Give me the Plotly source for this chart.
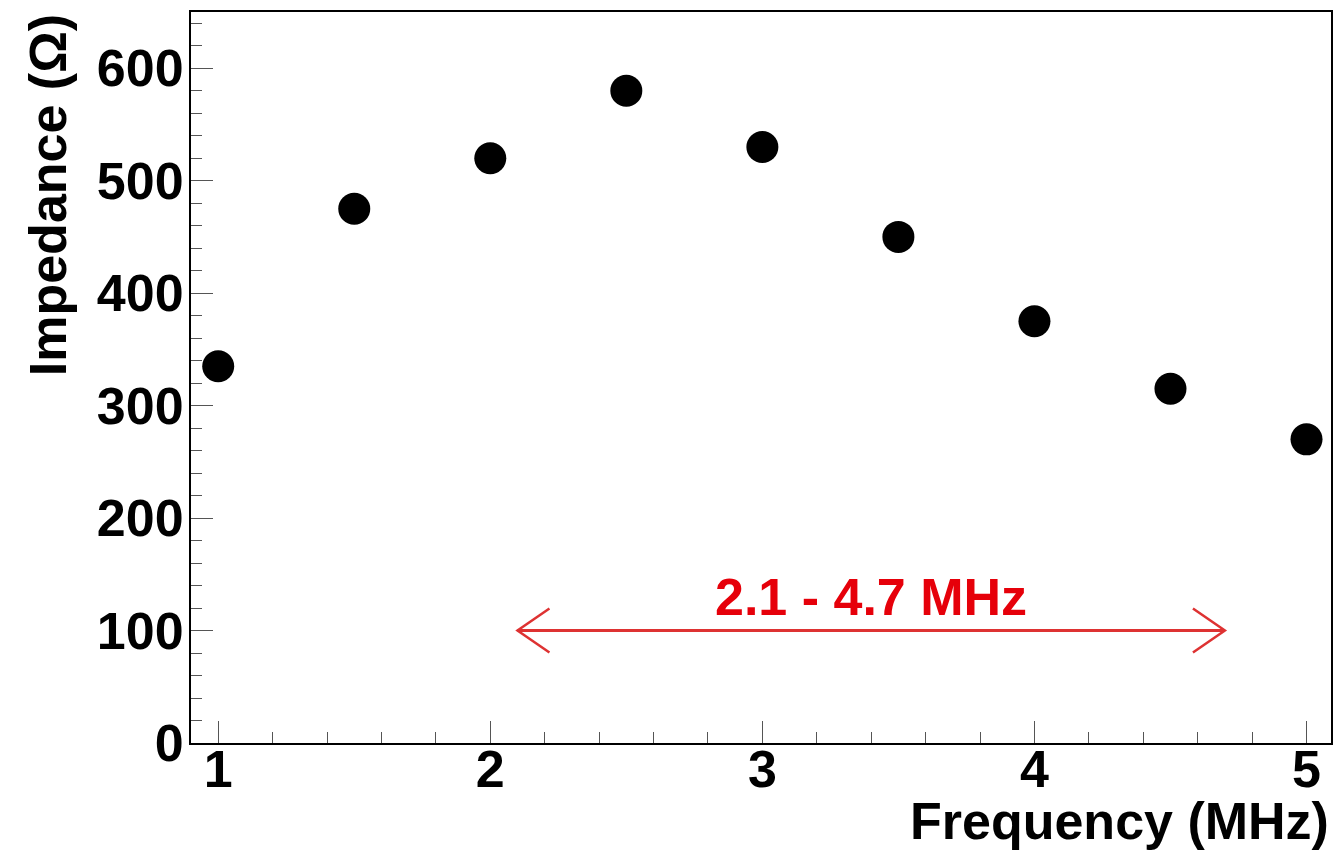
import plotly.graph_objects as go

# ---- data ----
frequency_mhz = [1.0, 1.5, 2.0, 2.5, 3.0, 3.5, 4.0, 4.5, 5.0]
impedance_ohm = [335, 475, 520, 580, 530, 450, 375, 315, 270]
band_range = [2.1, 4.7]
band_y = 100
band_label = "2.1 - 4.7 MHz"
x_title = "Frequency (MHz)"
y_title = "Impedance (Ω)"
x_ticks = [1, 2, 3, 4, 5]
y_ticks = [0, 100, 200, 300, 400, 500, 600]

# ---- layout geometry ----
W, H = 1339, 852
ML, MR, MT, MB = 191, 6, 12, 109
x_range = [0.9, 5.09]
y_range = [0, 650]
plot_w = W - ML - MR
plot_h = H - MT - MB

FONT = "Liberation Sans, Arial, Helvetica, sans-serif"
FS = 52
RED_LINE = "rgb(222,50,50)"
RED_TEXT = "rgb(230,0,10)"

# arrow head size in pixels -> data units
head_px_x, head_px_y = 32, 22
hx = head_px_x * (x_range[1] - x_range[0]) / plot_w
hy = head_px_y * (y_range[1] - y_range[0]) / plot_h

fig = go.Figure()

# arrow shaft
fig.add_trace(go.Scatter(
    x=band_range, y=[band_y, band_y], mode="lines",
    line=dict(color=RED_LINE, width=3), hoverinfo="skip", showlegend=False))
# arrow heads (open chevrons)
x0, x1 = band_range
fig.add_trace(go.Scatter(
    x=[x0 + hx, x0, x0 + hx], y=[band_y + hy, band_y, band_y - hy], mode="lines",
    line=dict(color=RED_LINE, width=2.5), hoverinfo="skip", showlegend=False))
fig.add_trace(go.Scatter(
    x=[x1 - hx, x1, x1 - hx], y=[band_y + hy, band_y, band_y - hy], mode="lines",
    line=dict(color=RED_LINE, width=2.5), hoverinfo="skip", showlegend=False))

# data points
fig.add_trace(go.Scatter(
    x=frequency_mhz, y=impedance_ohm, mode="markers",
    marker=dict(symbol="circle", size=32, color="black"),
    showlegend=False))

fig.add_annotation(
    x=sum(band_range) / 2, y=band_y, xref="x", yref="y",
    text=f"<b>{band_label}</b>", showarrow=False, yshift=34,
    font=dict(family=FONT, size=FS, color=RED_TEXT))

# axis titles (right/top aligned as in the original)
fig.add_annotation(
    x=1, y=-(790 - (H - MB)) / plot_h, xref="paper", yref="paper",
    xanchor="right", yanchor="top", text=f"<b>{x_title}</b>", showarrow=False,
    font=dict(family=FONT, size=FS, color="black"))
fig.add_annotation(
    x=(48 - ML) / plot_w, y=1 - (12 - MT) / plot_h, xref="paper", yref="paper",
    xanchor="center", yanchor="top", textangle=-90, text=f"<b>{y_title}</b>",
    showarrow=False, font=dict(family=FONT, size=FS, color="black"))

axis_common = dict(
    showgrid=False, zeroline=False, showline=True, linecolor="black",
    linewidth=2, mirror=True, ticks="inside", ticklen=22, tickwidth=1,
    tickcolor="#555",
    tickfont=dict(family=FONT, size=FS, color="black", weight="bold"),
)

fig.update_xaxes(
    range=x_range, tickvals=x_ticks, ticktext=[str(v) for v in x_ticks],
    minor=dict(dtick=0.2, tick0=1, ticks="inside", ticklen=11, tickwidth=1,
               tickcolor="#555", showgrid=False),
    ticklabelstandoff=-20,
    **axis_common)
fig.update_yaxes(
    range=y_range, tickvals=y_ticks, ticktext=[str(v) for v in y_ticks],
    minor=dict(dtick=20, tick0=0, ticks="inside", ticklen=11, tickwidth=1,
               tickcolor="#555", showgrid=False),
    ticklabelstandoff=-5,
    **axis_common)

fig.update_layout(
    width=W, height=H,
    margin=dict(l=ML, r=MR, t=MT, b=MB),
    paper_bgcolor="white", plot_bgcolor="white",
    showlegend=False,
)

fig.write_html(
    "out.html",
    config={"displayModeBar": False},
    post_script="document.body.style.margin='0';document.body.style.overflow='hidden';",
)
